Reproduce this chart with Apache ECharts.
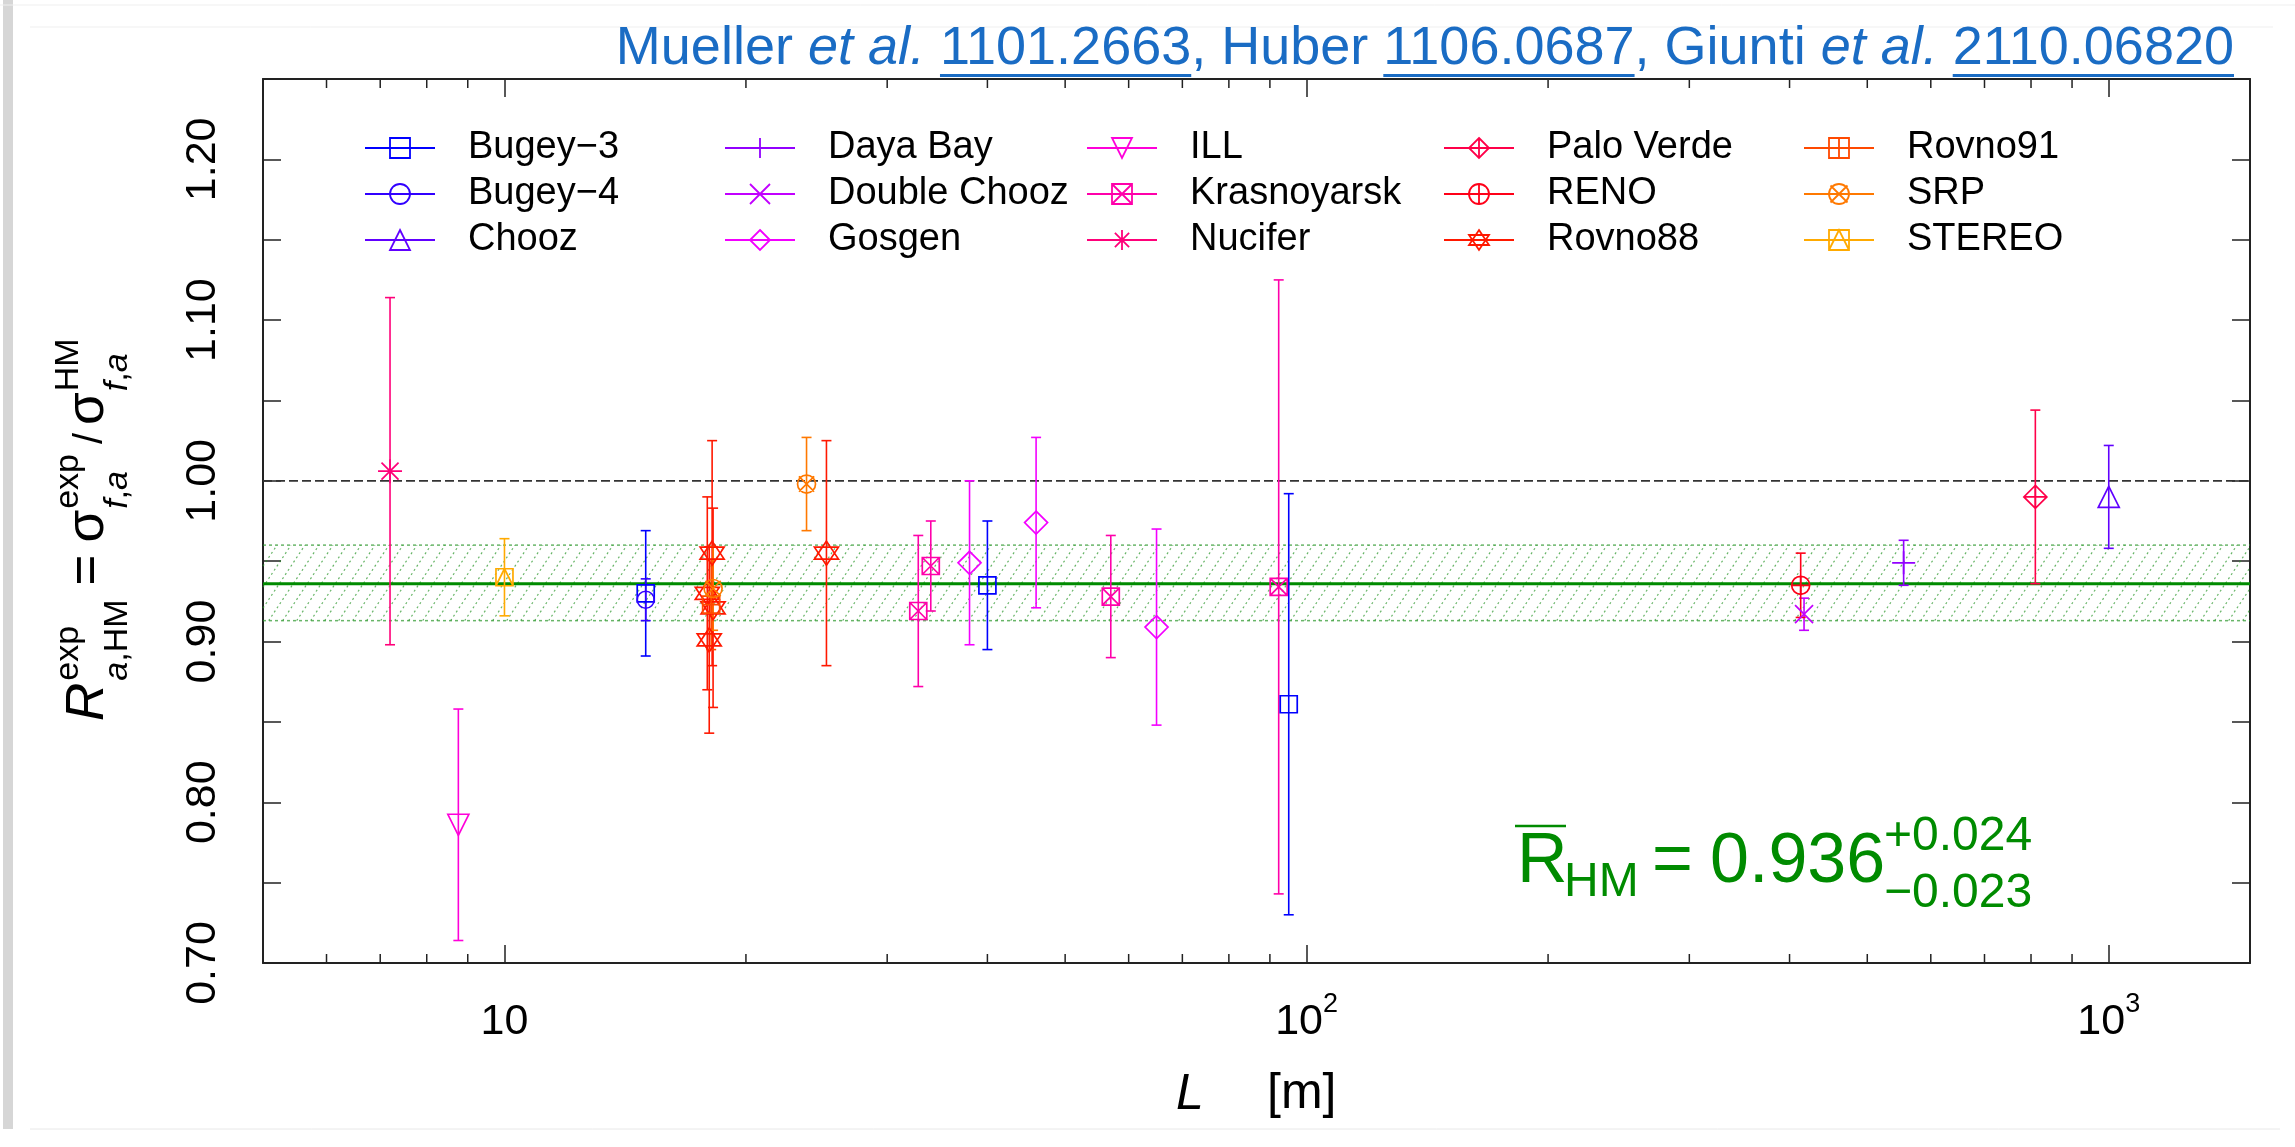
<!DOCTYPE html>
<html><head><meta charset="utf-8">
<script src="https://cdn.jsdelivr.net/npm/echarts@6/dist/echarts.min.js"></script>
<style>html,body{margin:0;padding:0;background:#fff;}#c{width:2295px;height:1147px;}</style>
</head><body><div id="c"></div>
<script>
// ---------------- DATA ----------------
const experiments = ['Bugey\u22123','Bugey\u22124','Chooz','Daya Bay','Double Chooz','Gosgen','ILL','Krasnoyarsk','Nucifer','Palo Verde','RENO','Rovno88','Rovno91','SRP','STEREO'];
const baselines = [[15,40,95],[15],[1000],[555],[417],[38,46,65],[8.76],[32.8,34.0,57.0,92.3],[7.2],[810],[413],[18.0,17.9,18.15,25.2,18.2],[18.1],[18.2,23.8],[10.0]];
const ratios    = [[0.930,0.935,0.861],[0.926],[0.990],[0.949],[0.917],[0.949,0.974,0.909],[0.786],[0.919,0.947,0.928,0.934],[1.006],[0.990],[0.935],[0.901,0.930,0.955,0.955,0.921],[0.923],[0.933,0.998],[0.940]];
const errors    = [[0.039,0.040,0.131],[0.013],[0.032],[0.014],[0.010],[0.051,0.053,0.061],[0.072],[0.047,0.028,0.038,0.191],[0.108],[0.054],[0.020],[0.058,0.060,0.070,0.070,0.062],[0.028],[0.026,0.029],[0.024]];
const meanRatio = 0.936, meanErrUp = 0.024, meanErrDown = 0.023;
const bandLow = 0.913, bandHigh = 0.960;
const referenceRatio = 1.0;
const xMin = 5, xMax = 1500;
const yMin = 0.70, yMax = 1.25, yStep = 0.05;
const minorTicksL = [6,7,8,9,20,30,40,50,60,70,80,90,200,300,400,500,600,700,800,900];

// ---------------- STYLE ----------------
const FONT = '"Liberation Sans", Arial, Helvetica, sans-serif';
const colors = ['#0000FF','#3100FF','#6100FF','#9200FF','#C200FF','#F300FF','#FF00DA','#FF00AA','#FF0079','#FF0049','#FF0018','#FF1800','#FF4900','#FF7900','#FFAA00'];
const C = 'M0,10A10,10,0,1,1,20,10A10,10,0,1,1,0,10Z';
const SQ = 'M0,0L20,0L20,20L0,20Z';
const DI = 'M10,0L20,10L10,20L0,10Z';
const PL = 'M10,0L10,20M0,10L20,10';
const XX = 'M0,0L20,20M20,0L0,20';
const symbols = [
  'path://'+SQ,
  'path://'+C,
  'path://M10,0L20,18L0,18Z',
  'path://'+PL,
  'path://'+XX,
  'path://'+DI,
  'path://M0,0L20,0L10,18Z',
  'path://'+SQ+XX,
  'path://'+PL+'M2.9,2.9L17.1,17.1M17.1,2.9L2.9,17.1',
  'path://'+DI+PL,
  'path://'+C+PL,
  'path://M10,0L20,15L0,15ZM0,5L20,5L10,20Z',
  'path://'+SQ+PL,
  'path://'+C+'M1.5,1.5L18.5,18.5M18.5,1.5L1.5,18.5',
  'path://'+SQ+'M0,20L10,0L20,20'
];
const symbolSizes = [17,17,21,23,18,23,21,17,24,23,18,24,17,18,17];
const legendX = [359, 719, 1081, 1438, 1798];

const mctx = document.createElement('canvas').getContext('2d');
function tw(s, fs, italic){ mctx.font = (italic?'italic ':'') + fs + 'px ' + FONT; return mctx.measureText(s).width; }
function txt(s, x, base, fs, opt){
  opt = opt || {};
  return {type:'text', x:x, y: base - 0.3465*fs, silent:true,
    style:{text:s, fontSize:fs, fontFamily:FONT, fontStyle: opt.italic?'italic':'normal',
      fill: opt.color||'#000', align: opt.align||'left', textAlign: opt.align||'left',
      verticalAlign:'middle', textVerticalAlign:'middle'}};
}
function seq(segs, x, base, color){
  const out = []; let cx = x;
  segs.forEach(s => { out.push(txt(s[0], cx, base + (s[3]||0), s[1], {italic:s[2], color})); cx += tw(s[0], s[1], s[2]); });
  return {els: out, end: cx};
}

// ---------------- SERIES ----------------
const series = [];
series.push({
  type:'custom', name:'refs', silent:true, z:1, animation:false,
  data:[[xMin, meanRatio, bandLow, bandHigh, referenceRatio]],
  encode:{x:0, y:1},
  renderItem:(params, api) => {
    const cs = params.coordSys; const x0 = cs.x, x1 = cs.x + cs.width;
    const yMean = api.coord([xMin, api.value(1)])[1];
    const yLo = api.coord([xMin, api.value(2)])[1];
    const yHi = api.coord([xMin, api.value(3)])[1];
    const yRef = api.coord([xMin, api.value(4)])[1];
    const ch = [];
    const H = yLo - yHi, slope = 1.5, dx = H/slope;
    for (let a = x0 - dx; a < x1; a += 14) {
      let sx=a, sy=yLo, ex=a+dx, ey=yHi;
      if (sx < x0) { sy = yLo - (x0-a)*slope; sx = x0; }
      if (ex > x1) { ey = yLo - (x1-a)*slope; ex = x1; }
      if (ex <= sx) continue;
      ch.push({type:'line', shape:{x1:sx,y1:sy,x2:ex,y2:ey}, style:{stroke:'rgba(40,150,40,0.7)', lineWidth:1.2, lineDash:[2,3]}});
    }
    [yLo, yHi].forEach(y => ch.push({type:'line', shape:{x1:x0,y1:y,x2:x1,y2:y}, style:{stroke:'rgba(40,150,40,0.7)', lineWidth:1.5, lineDash:[3,3]}}));
    ch.push({type:'line', shape:{x1:x0,y1:yRef,x2:x1,y2:yRef}, style:{stroke:'#333', lineWidth:1.8, lineDash:[9,4]}});
    ch.push({type:'line', shape:{x1:x0,y1:yMean,x2:x1,y2:yMean}, style:{stroke:'#008B00', lineWidth:3}});
    return {type:'group', children: ch};
  }
});
series.push({
  type:'custom', name:'minorTicks', silent:true, z:6, animation:false,
  data: minorTicksL.map(v => [v, yMin]),
  renderItem:(params, api) => {
    const cs = params.coordSys;
    const x = api.coord([api.value(0), api.value(1)])[0];
    const b = cs.y + cs.height, t = cs.y;
    return {type:'group', children:[
      {type:'line', shape:{x1:x,y1:b,x2:x,y2:b-9}, style:{stroke:'#222', lineWidth:1.5}},
      {type:'line', shape:{x1:x,y1:t,x2:x,y2:t+9}, style:{stroke:'#222', lineWidth:1.5}}
    ]};
  }
});
experiments.forEach((name, i) => {
  series.push({
    type:'custom', name: name + ' error', silent:true, z:2, animation:false,
    data: baselines[i].map((L, j) => [L, ratios[i][j], errors[i][j]]),
    renderItem:(params, api) => {
      const x = api.value(0), y = api.value(1), e = api.value(2);
      const t = api.coord([x, y + e]), b = api.coord([x, y - e]);
      const st = {stroke: colors[i], lineWidth: 1.6};
      return {type:'group', children:[
        {type:'line', shape:{x1:t[0],y1:t[1],x2:b[0],y2:b[1]}, style:st},
        {type:'line', shape:{x1:t[0]-5,y1:t[1],x2:t[0]+5,y2:t[1]}, style:st},
        {type:'line', shape:{x1:b[0]-5,y1:b[1],x2:b[0]+5,y2:b[1]}, style:st}
      ]};
    }
  });
});
const markerSeries = experiments.map((name, i) => ({
  type:'line', name: name, silent:true, z:3, animation:false,
  data: baselines[i].map((L, j) => [L, ratios[i][j]]),
  symbol: symbols[i], symbolSize: symbolSizes[i], showAllSymbol:true,
  lineStyle:{color: colors[i], width: 2, opacity: 0},
  itemStyle:{color:'rgba(0,0,0,0)', borderColor: colors[i], borderWidth: 1.7},
  emphasis:{disabled:true}
}));
const allSeries = markerSeries.concat(series);

// ---------------- GRAPHICS (texts) ----------------
const graphics = [];
graphics.push({type:'rect', shape:{x:3,y:0,width:10,height:1129}, style:{fill:'#d6d6d6'}, silent:true});
graphics.push({type:'line', shape:{x1:0,y1:5,x2:2295,y2:5}, style:{stroke:'#efefef', lineWidth:1}, silent:true});
graphics.push({type:'line', shape:{x1:30,y1:27,x2:2273,y2:27}, style:{stroke:'#efefef', lineWidth:1}, silent:true});
graphics.push({type:'line', shape:{x1:30,y1:1129,x2:2280,y2:1129}, style:{stroke:'#e8e8e8', lineWidth:1}, silent:true});

(function(){
  const fs = 54, col = '#1a6cc4', base = 68, right = 2234;
  const segs = [['Mueller ',0],['et al.',1],[' ',0],['1101.2663',2],[', Huber ',0],['1106.0687',2],[', Giunti ',0],['et al.',1],[' ',0],['2110.06820',2]];
  let total = 0; segs.forEach(s => total += tw(s[0], fs, s[1]===1));
  let x = right - total;
  segs.forEach(s => {
    const w = tw(s[0], fs, s[1]===1);
    graphics.push(txt(s[0], x, base, fs, {italic: s[1]===1, color: col}));
    if (s[1]===2) graphics.push({type:'rect', shape:{x:x, y:base+6, width:w, height:3}, style:{fill:col}, silent:true});
    x += w;
  });
})();

graphics.push(txt('L', 1176, 1112, 50, {italic:true}));
graphics.push(txt('[m]', 1267, 1112, 50));

(function(){
  const ch = [];
  const big = 53, sm = 34, up = -27, dn = 22;
  ch.push(txt('R', 0, 0, big, {italic:true}));
  let x1 = tw('R', big, true) + 2;
  ch.push(txt('exp', x1, up, sm));
  let s = seq([['a',sm,true],[',HM',sm,false]], x1, dn);
  s.els.forEach(e => ch.push(e));
  let x = Math.max(s.end, x1 + tw('exp', sm)) + 14;
  ch.push(txt('=', x, 0, big)); x += tw('=', big) + 12;
  ch.push(txt('\u03c3', x, 0, big)); x += tw('\u03c3', big) + 1;
  ch.push(txt('exp', x, up, sm));
  s = seq([['f',sm,true],[',',sm,false],['a',sm,true]], x, dn);
  s.els.forEach(e => ch.push(e));
  x = Math.max(s.end, x + tw('exp', sm)) + 10;
  ch.push(txt('/', x, -2, 40)); x += tw('/', 40) + 8;
  ch.push(txt('\u03c3', x, 0, big)); x += tw('\u03c3', big) + 1;
  ch.push(txt('HM', x, up, sm));
  s = seq([['f',sm,true],[',',sm,false],['a',sm,true]], x, dn);
  s.els.forEach(e => ch.push(e));
  graphics.push({type:'group', x:107, y:721, rotation: Math.PI/2, children: ch, silent:true});
})();

(function(){
  const g = '#008B00';
  graphics.push({type:'line', shape:{x1:1515,y1:826,x2:1566,y2:826}, style:{stroke:g, lineWidth:2.5}, silent:true});
  graphics.push(txt('R', 1517, 887, 70, {color:g}));
  graphics.push(txt('HM', 1564, 899, 48, {color:g}));
  graphics.push(txt('=', 1652, 887, 70, {color:g}));
  graphics.push(txt(meanRatio.toFixed(3), 1710, 887, 70, {color:g}));
  graphics.push(txt('+' + meanErrUp.toFixed(3), 1884, 853, 48, {color:g}));
  graphics.push(txt('\u2212' + meanErrDown.toFixed(3), 1884, 910, 48, {color:g}));
})();

// ---------------- OPTION ----------------
const axisLineStyle = {color:'#222', width:2};
const option = {
  backgroundColor:'#fff',
  animation:false,
  grid:{left:263, top:79, width:1987, height:884, containLabel:false},
  xAxis:[
    {type:'log', logBase:10, min:xMin, max:xMax, position:'bottom',
      axisLine:{show:true, lineStyle:axisLineStyle}, splitLine:{show:false},
      axisTick:{show:true, inside:true, length:18, lineStyle:{color:'#222', width:1.5}},
      axisLabel:{show:true, margin:28, interval:0, showMinLabel:false, showMaxLabel:false,
        formatter:(v) => { const e = Math.round(Math.log10(v)); if (Math.abs(v - Math.pow(10, e)) > 1e-6) return ''; return e === 1 ? '{b|10}' : '{b|10}{s|' + e + '}'; },
        rich:{b:{fontSize:43, lineHeight:62, fontFamily:FONT, color:'#000'}, s:{fontSize:27, lineHeight:27, verticalAlign:'top', fontFamily:FONT, color:'#000'}}}},
    {type:'log', logBase:10, min:xMin, max:xMax, position:'top',
      axisLine:{show:true, lineStyle:axisLineStyle}, splitLine:{show:false},
      axisTick:{show:true, inside:true, length:18, lineStyle:{color:'#222', width:1.5}},
      axisLabel:{show:false}}
  ],
  yAxis:[
    {type:'value', min:yMin, max:yMax, interval:yStep, position:'left',
      axisLine:{show:true, lineStyle:axisLineStyle}, splitLine:{show:false},
      axisTick:{show:true, inside:true, length:18, lineStyle:{color:'#222', width:1.5}},
      axisLabel:{show:true, rotate:90, margin:38, fontSize:43, fontFamily:FONT, color:'#000',
        formatter:(v) => (Math.round(v*100) % 10 === 0 ? v.toFixed(2) : '')}},
    {type:'value', min:yMin, max:yMax, interval:yStep, position:'right',
      axisLine:{show:true, lineStyle:axisLineStyle}, splitLine:{show:false},
      axisTick:{show:true, inside:true, length:18, lineStyle:{color:'#222', width:1.5}},
      axisLabel:{show:false}}
  ],
  legend: [0,1,2,3,4].map(c => ({
    orient:'vertical', left: legendX[c], top:124, itemWidth:70, itemHeight:25, itemGap:8,
    selectedMode:false, data: experiments.slice(3*c, 3*c+3),
    textStyle:{fontSize:38, fontFamily:FONT, color:'#000', padding:[0,0,0,28]},
    lineStyle:{width:2, opacity:1},
    itemStyle:{borderWidth:1.8}
  })),
  graphic: graphics,
  series: allSeries
};
const chart = echarts.init(document.getElementById('c'), null, {renderer:'canvas'});
chart.setOption(option);
</script></body></html>
